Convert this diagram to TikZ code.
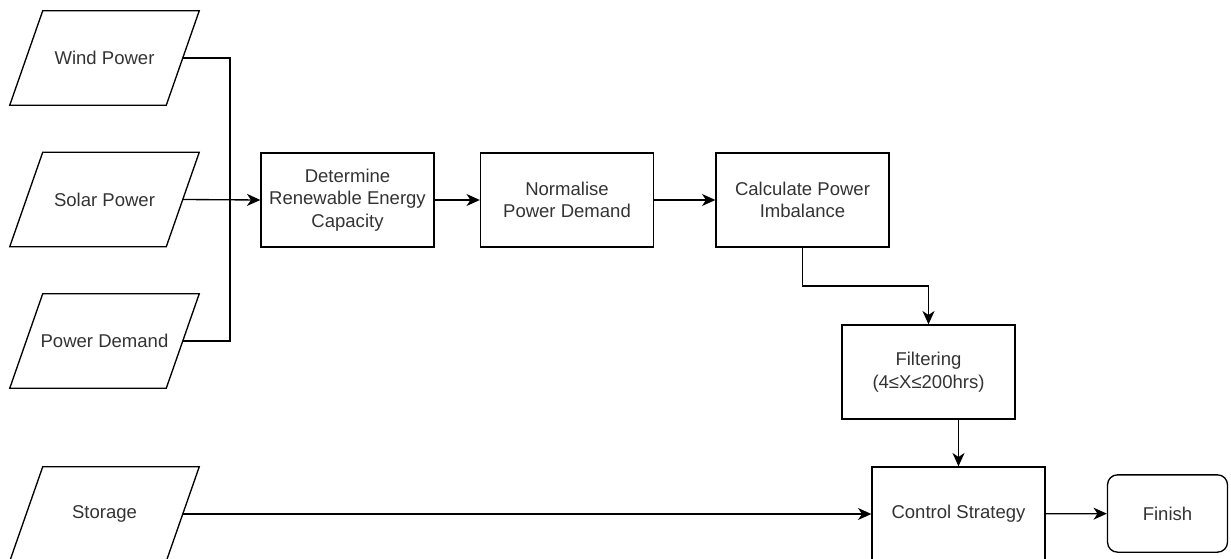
\documentclass[tikz,border=0pt]{standalone}
\usepackage{fontspec}
\setmainfont{Liberation Sans}
\usepackage{tikz}
\usetikzlibrary{arrows.meta}
\definecolor{textgray}{RGB}{51,51,51}

\tikzset{
  box/.style={draw, line width=1pt, text=textgray, align=center, minimum width=129.75pt, minimum height=70.5pt, inner sep=2pt},
  inputbox/.style={text=textgray, minimum width=141.75pt, minimum height=70.5pt, inner sep=2pt,
    append after command={\pgfextra{\draw[line width=1pt] ([xshift=24.75pt]\tikzlastnode.north west) -- (\tikzlastnode.north east)
      -- ([xshift=-24.75pt]\tikzlastnode.south east) -- (\tikzlastnode.south west) -- cycle;}}},
  endbox/.style={draw, line width=1pt, text=textgray, rounded corners=7.5pt, minimum width=90pt, minimum height=58pt},
  link/.style={line width=1pt},
  flow/.style={line width=1pt, -{Stealth[length=10pt,width=9pt,inset=3pt]}}
}

\begin{document}
\begin{tikzpicture}[x=0.75pt, y=-0.75pt, font=\fontsize{13.9}{16.9}\selectfont]
\useasboundingbox (0,0) rectangle (1231,559);
\clip (0,0) rectangle (1231,559);
% Draw the inputs
\node[inputbox] (wind) at (104.5,58) {Wind Power};
\node[inputbox] (solar) at (104.5,199.5) {Solar Power};
\node[inputbox] (demand) at (104.5,341) {Power Demand};
\node[inputbox] (storage) at (104.5,514) {Storage};
% Draw the processing steps
\node[box] (capacity) at (347.5,200) {Determine\\Renewable Energy\\Capacity};
\node[box] (normalise) at (567,200) {Normalise\\Power Demand};
\node[box] (imbalance) at (802.5,200) {Calculate Power\\Imbalance};
\node[box] (filtering) at (928.5,372) {Filtering\\(4≤X≤200hrs)};
\node[box] (control) at (958.5,514) {Control Strategy};
\node[endbox] (finish) at (1167.5,513.5) {Finish};
% Draw the joining point of the inputs
\coordinate (join) at (230,200);
% Draw the connectors
\draw[link] ([xshift=-12.4pt]wind.east) -| (join);
\draw[link] ([xshift=-12.4pt]demand.east) -| (join);
\draw[flow] ([xshift=-12.4pt]solar.east) -- (capacity.west);
\draw[flow] (capacity) -- (normalise);
\draw[flow] (normalise) -- (imbalance);
\draw[flow] (imbalance.south) |- (928.5,286) -- (filtering.north);
\draw[flow] (filtering.south -| control.north) -- (control.north);
\draw[flow] ([xshift=-12.4pt]storage.east) -- (control.west);
\draw[flow] (control) -- (finish);
\end{tikzpicture}
\end{document}
